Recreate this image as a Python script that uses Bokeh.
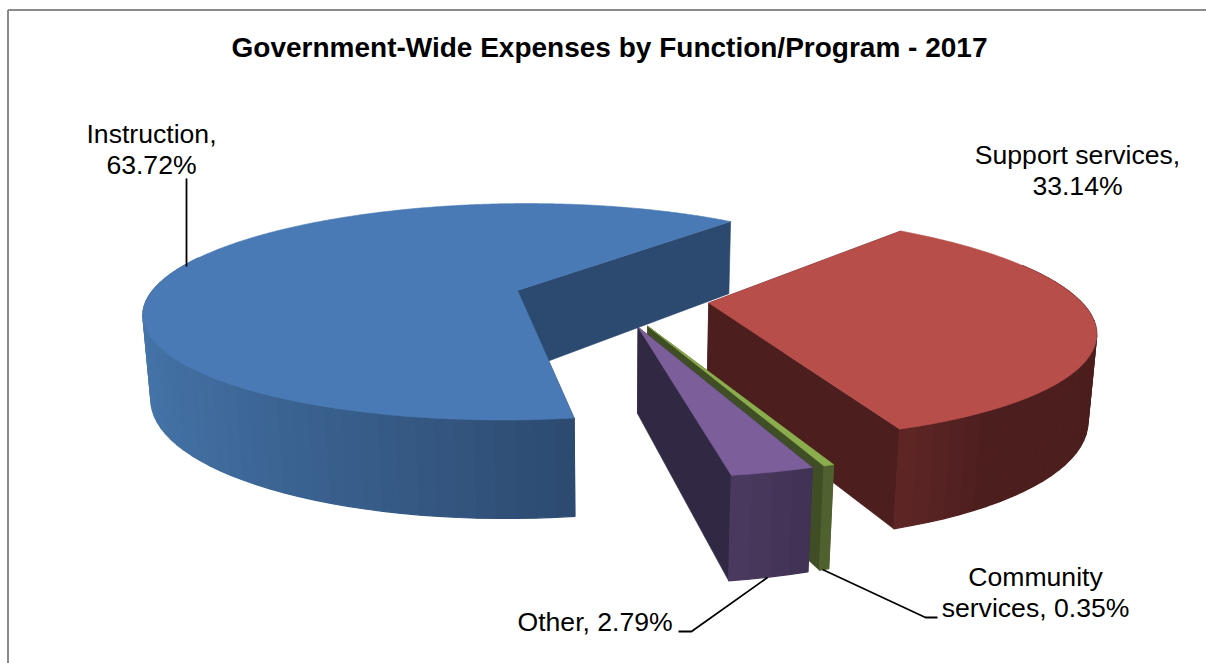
import math
from bokeh.plotting import figure
from bokeh.models import Range1d
from bokeh.core.properties import value
from bokeh.embed import file_html
from bokeh.resources import INLINE

# Chart data
title = "Government-Wide Expenses by Function/Program - 2017"
categories = ["Instruction", "Support services", "Community services", "Other"]
shares = [63.72, 33.14, 0.35, 2.79]

# Per-slice colours: top face, cut face, outer wall at its two shading ends
top_colors = ["#4A7AB5", "#B84E4A", "#8CAD4E", "#7C5F9A"]
cut_colors = ["#2C4A70", "#4C1E1E", "#404E25", "#312944"]
wall_near = ["#2C4A70", "#602626", "#4F612F", "#4A3A60"]
wall_far = ["#4676AB", "#4C1E1E", "#4F612F", "#403254"]
wall_span = [100.0, 14.0, 1.0, 10.0]   # degrees over which the wall shade changes

# Camera and pie shape
START = 171.0       # first slice edge, degrees clockwise from north
EXPLODE = 0.265
X0, Y0 = 610.5, 297.5
AX, AY, DEPTH = 370.0, 107.0, 84.0
SHEAR = 7.0
PERSP, PERSP_Z = 0.20, 0.017

FONT = "Liberation Sans"


def project(gx, gy, gz=0.0):
    w = 1 + PERSP * gy + PERSP_Z * gz
    return X0 + (AX * gx - SHEAR * gy) / w, Y0 - (AY * gy - DEPTH * gz) / w


def mix(a, b, t):
    t = max(0.0, min(1.0, t))
    ca = [int(a[i:i + 2], 16) for i in (1, 3, 5)]
    cb = [int(b[i:i + 2], 16) for i in (1, 3, 5)]
    return "#%02x%02x%02x" % tuple(round(p + (q - p) * t) for p, q in zip(ca, cb))


def rim(ax, ay, deg):
    r = math.radians(deg)
    return ax + math.sin(r), ay + math.cos(r)


p = figure(width=1206, height=663, output_backend="svg", toolbar_location=None,
           x_range=Range1d(0, 1206), y_range=Range1d(663, 0),
           x_axis_type=None, y_axis_type=None, min_border=0,
           outline_line_color=None, background_fill_color="white",
           border_fill_color="white")
p.grid.visible = False

# Work out each slice's angular span and exploded apex
slices = []
angle = START
for share in shares:
    sweep = share / sum(shares) * 360.0
    mid = math.radians(angle + sweep / 2)
    slices.append((angle, angle + sweep, EXPLODE * math.sin(mid), EXPLODE * math.cos(mid)))
    angle += sweep


def poly(points, color, width=0.6):
    xs, ys = zip(*points)
    p.patch(list(xs), list(ys), fill_color=color, line_color=color, line_width=width)


def visible(deg):
    return math.cos(math.radians(deg)) <= 0.35


def wall_shade(i, a0, a1, mid):
    if i == 0:
        # the long wall brightens evenly across the page, not across the angle
        return math.sin(math.radians(min(90.0, (mid - a0) * 90.0 / wall_span[i])))
    return (a1 - mid) / wall_span[i]


def draw_walls(i):
    a0, a1, ax, ay = slices[i]
    # cut faces
    for edge in (a0, a1):
        gx, gy = rim(ax, ay, edge)
        poly([project(ax, ay), project(gx, gy), project(gx, gy, 1), project(ax, ay, 1)], cut_colors[i])
    # outer wall: shaded strips painted from the far side to the near side
    steps = max(2, int((a1 - a0) / 2.5))
    angles = [a0 + (a1 - a0) * k / steps for k in range(steps + 1)]
    strips = [(b0, b1) for b0, b1 in zip(angles[:-1], angles[1:]) if visible((b0 + b1) / 2)]
    strips.sort(key=lambda s: -math.cos(math.radians((s[0] + s[1]) / 2)))
    for b0, b1 in strips:
        g0, g1 = rim(ax, ay, b0), rim(ax, ay, b1)
        poly([project(*g0), project(*g1), project(*g1, 1), project(*g0, 1)],
             mix(wall_near[i], wall_far[i], wall_shade(i, a0, a1, (b0 + b1) / 2)), width=1.2)


def draw_top(i):
    a0, a1, ax, ay = slices[i]
    steps = max(2, int((a1 - a0) * 2))
    pts = [project(ax, ay)]
    for k in range(steps + 1):
        pts.append(project(*rim(ax, ay, a0 + (a1 - a0) * k / steps)))
    poly(pts, top_colors[i])


# Frame of the chart area
p.line([7.5, 7.5], [663, 9.5], line_color="#8a8a8a", line_width=2)
p.line([7.5, 1206], [9.5, 9.5], line_color="#8a8a8a", line_width=2)

# Painter's order: red walls, green, purple, blue, red top
draw_walls(1)
for i in (2, 3):
    draw_walls(i)
    draw_top(i)
draw_walls(0)
draw_top(0)
draw_top(1)

# Leader lines
p.line([186, 186], [178, 266], line_color="black", line_width=1.8)
p.line([678, 691, 767], [631, 631, 577], line_color="black", line_width=1.8)
p.line([822, 925, 937], [569, 617, 617], line_color="black", line_width=1.8)

# Texts
p.text([609], [47], text=[title], text_font=value(FONT), text_font_style="bold",
       text_font_size="28px", text_align="center", text_baseline="middle", text_color="black")


def label(x, y, lines, align="center"):
    p.text([x] * len(lines), [y + 31 * n for n in range(len(lines))], text=lines,
           text_font=value(FONT), text_font_size="26.6px", text_align=align,
           text_baseline="middle", text_color="black")


label(151, 133, [f"{categories[0]},", f"{shares[0]:.2f}%"])
label(1077, 154, [f"{categories[1]},", f"{shares[1]:.2f}%"])
label(1035, 576, ["Community", f"services, {shares[2]:.2f}%"])
label(517, 621, [f"{categories[3]}, {shares[3]:.2f}%"], align="left")

open("out.html", "w").write(file_html(p, INLINE))
